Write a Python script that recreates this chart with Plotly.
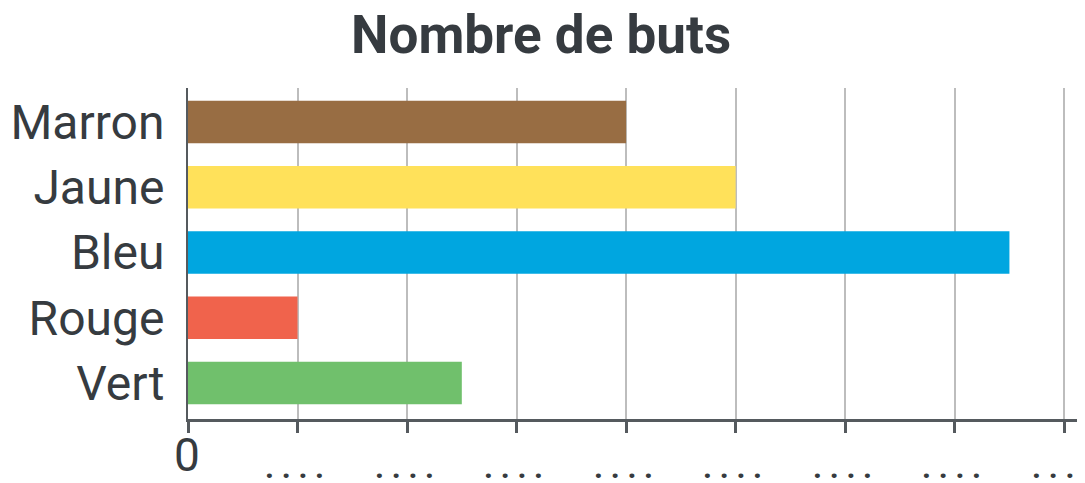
import plotly.graph_objects as go

categories = ["Marron", "Jaune", "Bleu", "Rouge", "Vert"]
values = [4, 5, 7.5, 1, 2.5]
colors = ["#986D43", "#FFE15A", "#00A6E0", "#F0634C", "#70C06C"]
tick_values = [0, 1, 2, 3, 4, 5, 6, 7, 8]
tick_labels = ["0", ". . . .", ". . . .", ". . . .", ". . . .", ". . . .", ". . . .", ". . . .", ". . . ."]

TXT = "#363b40"
FONT = "Roboto"

fig = go.Figure(go.Bar(
    y=categories, x=values, orientation="h",
    marker=dict(color=colors, line=dict(width=0)),
    width=0.65,
))

annotations = []
for v, lab in zip(tick_values, tick_labels):
    big = (lab == "0")
    annotations.append(dict(
        x=v, y=0, xref="x", yref="paper",
        text=lab if big else "<b>" + lab + "</b>", showarrow=False,
        yshift=-36 if big else -48, yanchor="middle", xanchor="center",
        xshift=-1 if big else -3,
        font=dict(family=FONT, size=46 if big else 31, color=TXT),
    ))

# page body has an 8px default margin; compensate so the chart fills 1085x483
fig.update_layout(
    width=1077, height=475,
    margin=dict(l=180, r=0, t=80, b=64),
    paper_bgcolor="white", plot_bgcolor="white",
    title=dict(text="<b>Nombre de buts</b>", x=0.495, xanchor="center",
               y=0.945, yanchor="middle",
               font=dict(family=FONT, size=53, color=TXT)),
    showlegend=False,
    annotations=annotations,
    xaxis=dict(
        range=[0, 8.19], tickvals=tick_values, showticklabels=False,
        showgrid=True, gridcolor="#bdbdbd", gridwidth=1.5,
        showline=True, linecolor="#555a5e", linewidth=2.5,
        ticks="outside", ticklen=11, tickwidth=2.5, tickcolor="#555a5e",
        zeroline=False, fixedrange=True, automargin=False,
    ),
    yaxis=dict(
        categoryorder="array", categoryarray=categories[::-1],
        range=[-0.55, 4.52],
        showline=True, linecolor="#555a5e", linewidth=2,
        ticks="", ticklabelstandoff=12,
        tickfont=dict(family=FONT, size=48, color=TXT),
        showgrid=False, fixedrange=True, automargin=False,
    ),
)

fig.write_html("out.html")
